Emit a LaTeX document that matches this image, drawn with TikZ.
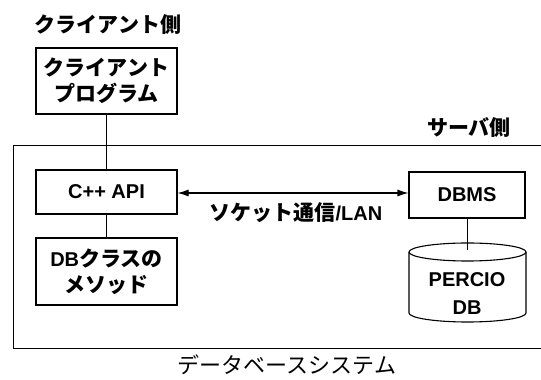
\documentclass[tikz,border=0pt]{standalone}
\usepackage{fontspec}
\setmainfont{Noto Sans CJK JP}
\newfontfamily\latf{Liberation Sans}
\usetikzlibrary{arrows.meta}
\newcommand{\jpf}{\fontsize{21}{26}\selectfont\bfseries}
\newcommand{\lt}[1]{{\latf\bfseries\fontsize{20}{26}\selectfont #1}}
\tikzset{
  box/.style={draw, line width=1.1pt, align=center, inner sep=0pt, font=\jpf},
  lbl/.style={font=\jpf, inner sep=0pt},
  conn/.style={line width=1.1pt},
}
\begin{document}
\begin{tikzpicture}[x=1pt,y=1pt]
\useasboundingbox (0,0) rectangle (541,380);
\clip (0,0) rectangle (541,380);
% outer system box (right side beyond the picture)
\node[draw, line width=1.1pt, minimum width=540pt, minimum height=203pt, inner sep=0pt, anchor=south west] (sys) at (13,31) {};
\node[lbl] (clientlbl) at (108,355) {クライアント側};
\node[lbl] (serverlbl) at (469,252) {サーバ側};
\node[box, minimum width=141pt, minimum height=66pt] (client) at (106.5,299) {クライアント\\プログラム};
\node[box, minimum width=141pt, minimum height=44pt] (api) at (106.5,188) {\lt{C++ API}};
\node[box, minimum width=141pt, minimum height=67pt] (dbc) at (106.5,108.5) {\lt{DB}クラスの\\メソッド};
\node[box, minimum width=116pt, minimum height=46pt] (dbms) at (467,185) {\lt{DBMS}};
% cylinder
\draw[conn] (409,128) arc[start angle=180,end angle=-180,x radius=58.5pt,y radius=9pt];
\draw[conn] (409,128) -- (409,67) arc[start angle=180,end angle=360,x radius=58.5pt,y radius=9pt] -- (526,128);
\coordinate (cyltop) at (467.5,130);
\node[lbl, align=center, font=\fontsize{20}{28}\selectfont] (percio) at (467,86) {\lt{PERCIO}\\\lt{DB}};
\draw[conn] (client.south) -- (api.north);
\draw[conn] (api.south) -- (dbc.north);
\draw[conn] (dbms.south -| cyltop) -- (cyltop);
\draw[conn, {Latex[length=11pt,width=7pt]}-{Latex[length=11pt,width=7pt]}] (api.east |- 0,187) -- (dbms.west |- 0,187);
\node[lbl, font=\fontsize{21}{26}\selectfont\bfseries] (sock) at (296,167) {ソケット通信\lt{/LAN}};
\node[lbl, font=\fontsize{22}{26}\selectfont] (syslbl) at (287,15) {データベースシステム};
\end{tikzpicture}
\end{document}
